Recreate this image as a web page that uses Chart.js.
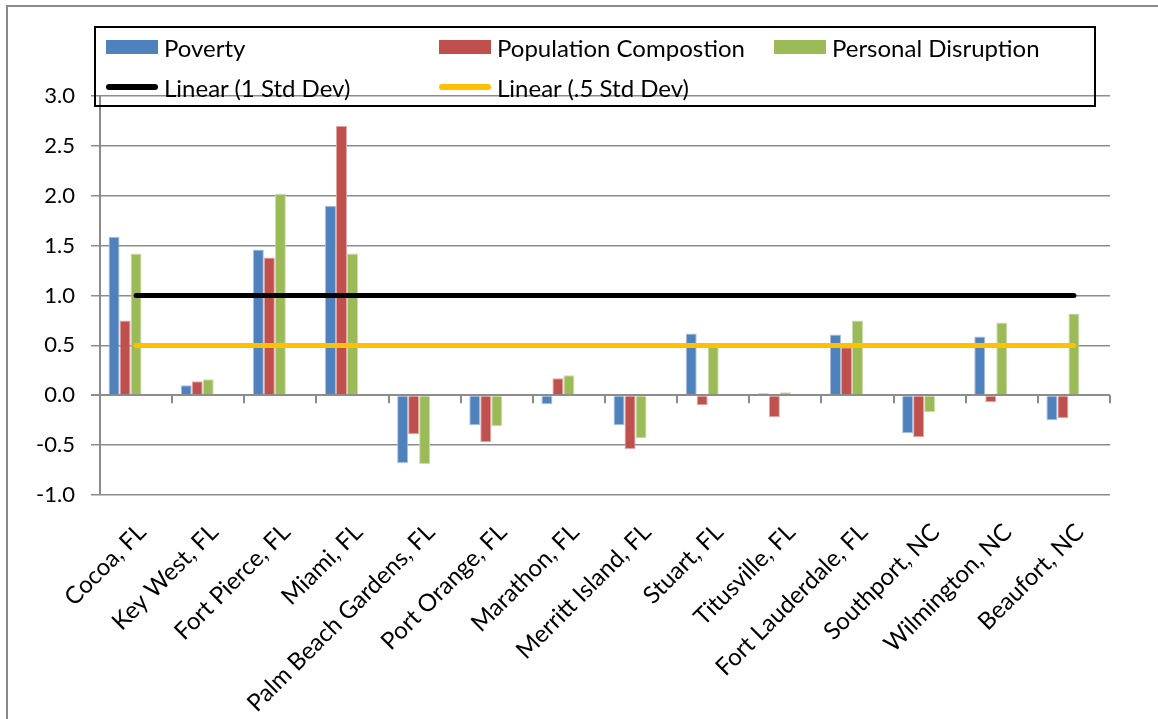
<!DOCTYPE html>
<html>
<head>
<meta charset="utf-8">
<script src="https://cdn.jsdelivr.net/npm/chart.js@4.4.1/dist/chart.umd.min.js"></script>
<style>
html, body { margin: 0; padding: 0; background: #fff; }
#wrap { position: relative; width: 1158px; height: 719px; overflow: hidden; }
#frame { position: absolute; left: 6px; top: 5px; width: 1300px; height: 900px;
  border-left: 2px solid #8a8a8a; border-top: 2px solid #8a8a8a; }
#chart { position: absolute; left: 0; top: 0; }
#legendBox { position: absolute; left: 94px; top: 26px; width: 998px; height: 77px; border: 2px solid #000; }
.item { position: absolute; display: flex; align-items: center; height: 28px;
  font-family: Lato, "Noto Sans", sans-serif; font-size: 24px; color: #000; white-space: nowrap; }
.sw { width: 52px; height: 14px; margin-right: 6px; }
.ln { width: 52px; height: 6px; border-radius: 3px; margin-right: 6px; }
</style>
</head>
<body>
<div id="wrap">
  <div id="frame"></div>
  <canvas id="chart" width="1158" height="719"></canvas>
  <div id="legendBox"></div>
  <div id="legend"></div>
</div>
<script>
// categories and values
const categories = ['Cocoa, FL', 'Key West, FL', 'Fort Pierce, FL', 'Miami, FL', 'Palm Beach Gardens, FL',
  'Port Orange, FL', 'Marathon, FL', 'Merritt Island, FL', 'Stuart, FL', 'Titusville, FL',
  'Fort Lauderdale, FL', 'Southport, NC', 'Wilmington, NC', 'Beaufort, NC'];
const poverty = [1.59, 0.10, 1.46, 1.90, -0.68, -0.30, -0.09, -0.30, 0.62, 0.02, 0.61, -0.38, 0.59, -0.25];
const populationComposition = [0.75, 0.14, 1.38, 2.70, -0.39, -0.47, 0.17, -0.54, -0.10, -0.22, 0.48, -0.42, -0.07, -0.23];
const personalDisruption = [1.42, 0.16, 2.02, 1.42, -0.69, -0.31, 0.20, -0.43, 0.49, 0.03, 0.75, -0.17, 0.73, 0.82];
const stdDev1 = [1, 1, 1, 1, 1, 1, 1, 1, 1, 1, 1, 1, 1, 1];
const stdDevHalf = [0.5, 0.5, 0.5, 0.5, 0.5, 0.5, 0.5, 0.5, 0.5, 0.5, 0.5, 0.5, 0.5, 0.5];
const yMin = -1.0, yMax = 3.0, yStep = 0.5;

const legendItems = [
  { label: 'Poverty', color: '#4F81BD', kind: 'sw', left: 106, top: 33 },
  { label: 'Population Compostion', color: '#C0504D', kind: 'sw', left: 439, top: 33 },
  { label: 'Personal Disruption', color: '#9BBB59', kind: 'sw', left: 774, top: 33 },
  { label: 'Linear (1 Std Dev)', color: '#000000', kind: 'ln', left: 106, top: 73 },
  { label: 'Linear (.5 Std Dev)', color: '#FFC000', kind: 'ln', left: 439, top: 73 }
];
const legendEl = document.getElementById('legend');
legendItems.forEach(it => {
  const d = document.createElement('div');
  d.className = 'item';
  d.style.left = it.left + 'px';
  d.style.top = it.top + 'px';
  d.innerHTML = '<span class="' + it.kind + '" style="background:' + it.color + '"></span><span>' + it.label + '</span>';
  legendEl.appendChild(d);
});

// short tick marks on the zero line between categories
const zeroTicks = {
  id: 'zeroTicks',
  beforeDatasetsDraw(chart) {
    const x = chart.scales.x, y = chart.scales.y;
    const y0 = y.getPixelForValue(0);
    const c = chart.ctx;
    c.save();
    c.strokeStyle = '#8a8a8a';
    c.lineWidth = 2;
    c.beginPath();
    for (let i = 0; i <= categories.length; i++) {
      const px = Math.round(x.getPixelForValue(i - 0.5));
      c.moveTo(px, y0);
      c.lineTo(px, y0 + 8);
    }
    c.stroke();
    c.restore();
  }
};

const ctx = document.getElementById('chart').getContext('2d');
new Chart(ctx, {
  type: 'bar',
  data: {
    labels: categories,
    datasets: [
      { label: 'Poverty', data: poverty, backgroundColor: '#4F81BD', borderColor: '#a9c0de', borderWidth: 1, order: 1 },
      { label: 'Population Compostion', data: populationComposition, backgroundColor: '#C0504D', borderColor: '#e0a8a6', borderWidth: 1, order: 1 },
      { label: 'Personal Disruption', data: personalDisruption, backgroundColor: '#9BBB59', borderColor: '#cddcac', borderWidth: 1, order: 1 },
      // std dev series are plotted as unfilled bars, only their trendlines show
      { label: '1 Std Dev', data: stdDev1, backgroundColor: 'rgba(0,0,0,0)', borderWidth: 0, order: 1 },
      { label: '.5 Std Dev', data: stdDevHalf, backgroundColor: 'rgba(0,0,0,0)', borderWidth: 0, order: 1 },
      { type: 'line', label: 'Linear (1 Std Dev)', data: stdDev1, borderColor: '#000000', borderWidth: 5,
        pointRadius: 0, borderCapStyle: 'round', fill: false, order: 0 },
      { type: 'line', label: 'Linear (.5 Std Dev)', data: stdDevHalf, borderColor: '#FFC000', borderWidth: 5,
        pointRadius: 0, borderCapStyle: 'round', fill: false, order: 0 }
    ]
  },
  options: {
    responsive: false,
    animation: false,
    devicePixelRatio: 1,
    categoryPercentage: 0.763,
    barPercentage: 1.0,
    layout: { padding: { top: 96, right: 48, bottom: 0, left: 0 } },
    plugins: { legend: { display: false }, tooltip: { enabled: false } },
    scales: {
      x: {
        grid: { display: false },
        border: { display: false },
        ticks: {
          autoSkip: false, maxRotation: 45, minRotation: 45, padding: 15, labelOffset: 6,
          color: '#000', font: { family: 'Lato', size: 24 }
        },
        afterFit: s => { s.height = 224; }
      },
      y: {
        min: yMin, max: yMax,
        ticks: {
          stepSize: yStep, padding: 16, color: '#000',
          font: { family: 'Lato', size: 22 },
          callback: v => Number(v).toFixed(1)
        },
        grid: {
          color: '#8c8c8c',
          lineWidth: c => (c.tick && c.tick.value === 0 ? 2 : 1.5),
          tickLength: 9
        },
        border: { display: true, color: '#8a8a8a', width: 2 },
        afterFit: s => { s.width = 100; }
      }
    }
  },
  plugins: [zeroTicks]
});
</script>
</body>
</html>
